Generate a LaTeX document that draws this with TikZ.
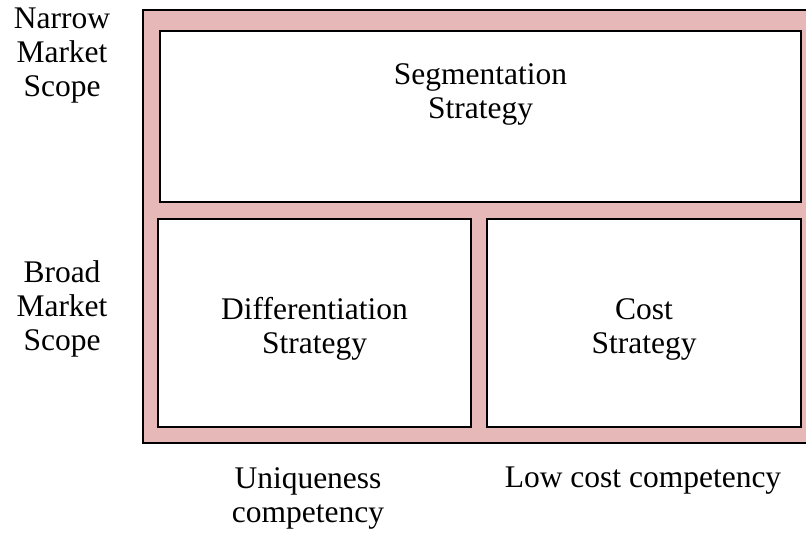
\documentclass[tikz,border=0pt]{standalone}
\usepackage{fontspec}
\setmainfont{Liberation Serif}
\usetikzlibrary{calc}
\definecolor{rose}{HTML}{E6B8B7}
\tikzset{
  % pink frame around the three strategies
  frame/.style={draw=black, line width=1.5pt, fill=rose,
    rectangle, anchor=north west, inner sep=0pt, outer sep=0pt},
  % white strategy box
  box/.style={draw=black, line width=2pt, fill=white,
    rectangle, anchor=north west, inner sep=0pt, outer sep=0pt},
  txt/.style={font=\fontsize{31.5}{34}\selectfont, align=center, inner sep=0pt},
}
\newcommand{\strat}[4]{%
  \node[box, minimum width=#3, minimum height=#4] (#1) at (#2) {};}

\begin{document}
\begin{tikzpicture}[x=1pt,y=1pt]
\useasboundingbox (0,0) rectangle (806,534);
\clip (0,0) rectangle (806,534);

% ----- frame and boxes -----
\node[frame, minimum width=672pt, minimum height=433pt] (frame) at (143,524) {};
\strat{seg}{160,503}{641pt}{171pt}
\strat{diff}{158,315}{313pt}{208pt}
\strat{cost}{487,315}{314pt}{208pt}

% ----- box texts -----
\node[txt] (segtxt) at ($(seg.center)+(0,22)$) {Segmentation\\Strategy};
\node[txt] (difftxt) at ($(diff.center)+(0,-6)$) {Differentiation\\Strategy};
\node[txt] (costtxt) at ($(cost.center)+(0,-6)$) {Cost\\Strategy};

% ----- axes -----
\node[txt] (narrow) at (62,478) {Narrow\\Market\\Scope};
\node[txt] (broad) at (62,225) {Broad\\Market\\Scope};
\node[txt] (unique) at (308,36) {Uniqueness\\competency};
\node[txt] (lowcost) at (643,53) {Low cost competency};

\end{tikzpicture}
\end{document}
